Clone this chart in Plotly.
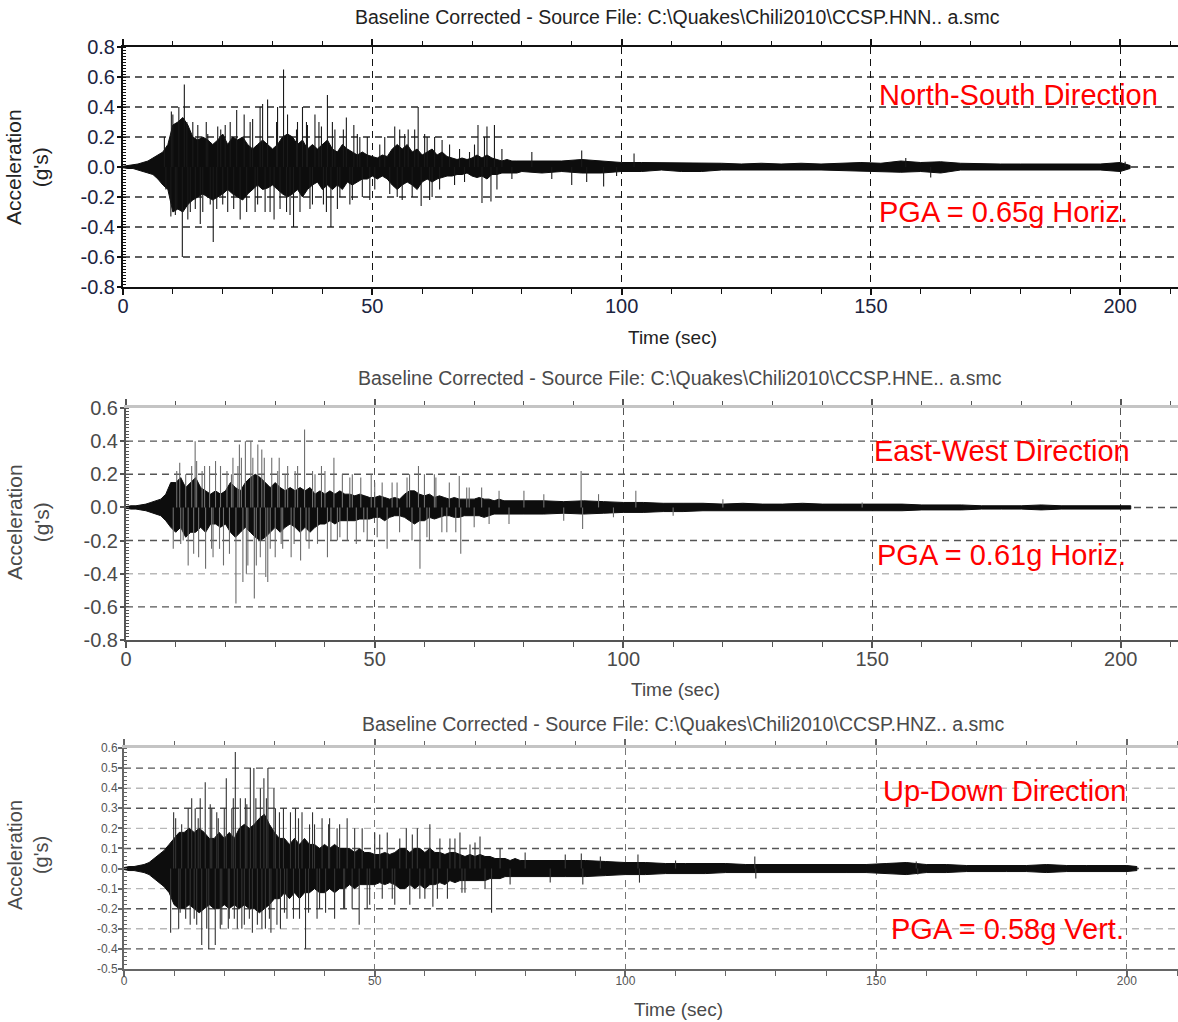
import plotly.graph_objects as go

# ---------------- DATA ----------------
# time knots (s): 1-s spacing during strong motion, 4-s spacing in the coda
T = list(range(0, 81)) + list(range(84, 201, 4)) + [202]

# local peak envelope of each record at the knots (upper / lower, g)
ns_hi = [0.005,0.01,0.01,0.02,0.03,0.04,0.06,0.08,0.10,0.15,
         0.28,0.30,0.33,0.28,0.20,0.18,0.20,0.18,0.15,0.18,
         0.22,0.15,0.20,0.18,0.20,0.15,0.12,0.15,0.18,0.15,
         0.12,0.15,0.20,0.22,0.20,0.15,0.18,0.12,0.15,0.12,
         0.15,0.18,0.12,0.10,0.15,0.12,0.10,0.08,0.10,0.08,
         0.07,0.06,0.08,0.07,0.12,0.15,0.12,0.15,0.10,0.12,
         0.08,0.10,0.12,0.08,0.10,0.07,0.06,0.05,0.06,0.05,
         0.06,0.08,0.06,0.08,0.06,0.05,0.04,0.05,0.04,0.04,
         0.04,
         0.04,0.04,0.05,0.04,0.03,0.03,0.03,0.03,0.025,0.025,
         0.02,0.025,0.02,0.025,0.02,0.025,0.03,0.025,0.04,0.03,
         0.035,0.025,0.02,0.02,0.02,0.02,0.025,0.02,0.02,0.03,
         0.01]
ns_lo = [-0.005,-0.01,-0.01,-0.02,-0.03,-0.04,-0.05,-0.08,-0.12,-0.15,
         -0.30,-0.28,-0.30,-0.25,-0.22,-0.20,-0.18,-0.20,-0.22,-0.20,
         -0.18,-0.15,-0.18,-0.20,-0.22,-0.18,-0.15,-0.12,-0.15,-0.14,
         -0.12,-0.15,-0.18,-0.20,-0.18,-0.15,-0.20,-0.15,-0.12,-0.10,
         -0.15,-0.12,-0.15,-0.12,-0.15,-0.10,-0.12,-0.10,-0.08,-0.08,
         -0.06,-0.08,-0.06,-0.08,-0.12,-0.15,-0.12,-0.10,-0.12,-0.15,
         -0.10,-0.08,-0.10,-0.08,-0.07,-0.06,-0.06,-0.05,-0.05,-0.04,
         -0.06,-0.07,-0.06,-0.08,-0.05,-0.05,-0.04,-0.04,-0.04,-0.04,
         -0.03,
         -0.04,-0.03,-0.04,-0.04,-0.03,-0.03,-0.02,-0.03,-0.03,-0.02,
         -0.025,-0.02,-0.02,-0.02,-0.02,-0.025,-0.03,-0.03,-0.035,-0.03,
         -0.04,-0.02,-0.015,-0.02,-0.02,-0.02,-0.02,-0.02,-0.02,-0.03,
         -0.01]

ew_hi = [0.005,0.01,0.01,0.015,0.02,0.03,0.04,0.05,0.08,0.15,
         0.15,0.18,0.12,0.15,0.18,0.12,0.10,0.08,0.10,0.08,
         0.10,0.15,0.12,0.10,0.15,0.18,0.20,0.18,0.15,0.12,
         0.15,0.12,0.10,0.12,0.10,0.12,0.10,0.12,0.08,0.10,
         0.08,0.10,0.08,0.10,0.08,0.08,0.07,0.08,0.07,0.06,
         0.06,0.07,0.06,0.05,0.06,0.05,0.08,0.10,0.10,0.08,
         0.07,0.08,0.06,0.07,0.06,0.05,0.06,0.05,0.05,0.05,
         0.05,0.06,0.05,0.05,0.04,0.05,0.04,0.04,0.04,0.04,
         0.04,
         0.04,0.035,0.04,0.035,0.03,0.03,0.025,0.025,0.025,0.02,
         0.025,0.02,0.02,0.025,0.02,0.02,0.02,0.02,0.02,0.015,
         0.015,0.015,0.01,0.01,0.01,0.015,0.01,0.01,0.01,0.01,
         0.01]
ew_lo = [-0.005,-0.01,-0.01,-0.015,-0.02,-0.03,-0.04,-0.05,-0.08,-0.12,
         -0.15,-0.12,-0.18,-0.15,-0.15,-0.12,-0.15,-0.10,-0.10,-0.12,
         -0.10,-0.15,-0.18,-0.15,-0.12,-0.15,-0.18,-0.20,-0.18,-0.15,
         -0.12,-0.15,-0.12,-0.10,-0.12,-0.15,-0.12,-0.15,-0.12,-0.10,
         -0.10,-0.08,-0.10,-0.08,-0.08,-0.08,-0.08,-0.07,-0.07,-0.07,
         -0.06,-0.06,-0.08,-0.06,-0.05,-0.05,-0.06,-0.08,-0.10,-0.08,
         -0.08,-0.06,-0.07,-0.06,-0.05,-0.05,-0.06,-0.06,-0.05,-0.05,
         -0.05,-0.05,-0.06,-0.05,-0.04,-0.04,-0.04,-0.04,-0.04,-0.04,
         -0.04,
         -0.04,-0.035,-0.04,-0.035,-0.03,-0.03,-0.025,-0.025,-0.02,-0.02,
         -0.02,-0.02,-0.02,-0.02,-0.02,-0.02,-0.02,-0.02,-0.02,-0.015,
         -0.015,-0.015,-0.01,-0.01,-0.01,-0.015,-0.01,-0.01,-0.01,-0.01,
         -0.01]

ud_hi = [0.005,0.01,0.01,0.015,0.02,0.03,0.05,0.07,0.09,0.12,
         0.15,0.18,0.18,0.20,0.18,0.20,0.18,0.15,0.15,0.18,
         0.15,0.18,0.15,0.20,0.22,0.20,0.22,0.25,0.27,0.22,
         0.18,0.15,0.15,0.12,0.15,0.12,0.15,0.12,0.12,0.10,
         0.12,0.10,0.12,0.10,0.10,0.10,0.08,0.10,0.08,0.08,
         0.07,0.07,0.08,0.07,0.08,0.10,0.10,0.08,0.10,0.10,
         0.08,0.10,0.08,0.08,0.07,0.08,0.08,0.07,0.06,0.07,
         0.06,0.07,0.06,0.06,0.05,0.05,0.05,0.04,0.05,0.04,
         0.04,
         0.04,0.04,0.04,0.035,0.03,0.03,0.025,0.025,0.025,0.025,
         0.02,0.02,0.02,0.02,0.02,0.02,0.02,0.025,0.03,0.02,
         0.02,0.015,0.015,0.015,0.015,0.02,0.015,0.015,0.015,0.015,
         0.01]
ud_lo = [-0.005,-0.01,-0.01,-0.015,-0.02,-0.03,-0.05,-0.07,-0.09,-0.12,
         -0.18,-0.20,-0.20,-0.18,-0.20,-0.22,-0.20,-0.18,-0.20,-0.20,
         -0.18,-0.20,-0.18,-0.20,-0.18,-0.20,-0.20,-0.22,-0.20,-0.18,
         -0.15,-0.15,-0.12,-0.15,-0.12,-0.15,-0.12,-0.12,-0.10,-0.12,
         -0.12,-0.10,-0.12,-0.10,-0.10,-0.08,-0.10,-0.08,-0.08,-0.08,
         -0.08,-0.07,-0.08,-0.07,-0.08,-0.10,-0.10,-0.08,-0.10,-0.08,
         -0.10,-0.08,-0.08,-0.07,-0.08,-0.06,-0.07,-0.06,-0.06,-0.06,
         -0.06,-0.06,-0.06,-0.05,-0.05,-0.05,-0.04,-0.04,-0.04,-0.04,
         -0.04,
         -0.04,-0.04,-0.04,-0.035,-0.03,-0.03,-0.025,-0.025,-0.025,-0.02,
         -0.02,-0.02,-0.02,-0.02,-0.02,-0.02,-0.02,-0.025,-0.03,-0.02,
         -0.02,-0.015,-0.015,-0.015,-0.015,-0.02,-0.015,-0.015,-0.015,-0.015,
         -0.01]

# individual peaks sticking out of the band (time s, acceleration g)
ns_spike_t = [8.3,8.6,9.7,9.6,10.5,11.2,11.9,12.3,13.0,14.0,15.5,16.7,17.5,18.1,19.0,20.5,21.0,
              22.8,23.5,24.3,25.5,26.5,27.5,28.0,29.0,29.5,30.3,31.0,32.2,33.0,33.5,34.2,35.0,
              36.0,36.8,37.5,38.5,39.3,40.2,41.0,41.7,42.5,43.5,44.8,45.5,46.3,47.5,48.0,49.5,
              52.5,54.5,55.5,56.0,57.2,58.0,59.2,59.8,60.5,61.5,62.5,63.5,65.5,67.5,68.5,70.5,
              71.2,72.0,73.0,73.8,74.5,76.0,78.0,82.0,86.0,90.0,92.0,93.0,96.4,99.0,102.5,157.0,162.0,201.0,
              10.0,10.8,12.8,13.5,14.5,15.0,16.0,17.0,18.8,19.6,20.0,21.5,22.2,24.8,26.0,27.0,28.5,
              30.8,31.5,32.8,34.8,35.5,37.0,38.0,39.8,40.8,42.0,43.0,44.2,46.0,47.0,49.0,50.5,51.5,
              53.5,55.0,56.5,58.5,61.0,62.0,64.0,66.5,69.5,72.5,75.0]
ns_spike_a = [0.20,-0.15,0.37,-0.33,-0.32,0.40,-0.60,0.55,-0.35,0.30,-0.38,0.30,-0.25,-0.50,0.27,0.28,-0.30,
              0.38,-0.35,0.35,0.30,-0.30,0.40,0.42,0.45,-0.30,-0.35,0.40,0.65,0.35,-0.32,-0.40,0.30,
              0.40,0.30,-0.28,0.35,0.30,-0.25,0.48,-0.40,0.25,-0.20,0.33,-0.25,0.28,0.20,-0.20,-0.22,
              0.20,0.27,0.25,-0.22,0.25,-0.20,0.40,-0.26,0.22,-0.22,0.20,-0.15,0.15,0.12,-0.10,0.15,
              0.28,-0.24,0.27,-0.23,0.28,0.12,-0.08,0.10,-0.08,-0.12,0.11,-0.10,-0.13,-0.06,0.09,0.06,-0.07,0.035,
              0.35,-0.28,0.30,-0.30,-0.28,0.28,-0.30,0.22,-0.28,0.25,-0.25,0.30,-0.28,-0.30,0.32,-0.25,-0.30,
              0.30,-0.28,-0.30,0.25,-0.30,0.28,-0.25,0.27,-0.30,0.30,-0.28,0.25,-0.22,0.22,0.20,-0.15,0.15,
              -0.18,-0.20,0.22,0.25,0.20,-0.20,0.18,-0.12,0.10,0.20,-0.15]

ew_spike_t = [9.5,10.2,10.8,11.5,12.5,13.2,13.9,14.6,15.3,16.0,16.8,17.5,18.0,18.8,19.6,20.3,21.5,
              22.1,22.8,23.5,24.0,24.5,25.1,25.8,26.5,27.3,28.1,28.5,29.3,30.0,30.8,31.5,32.5,
              33.2,34.0,35.1,35.9,36.8,37.5,38.5,39.3,40.5,41.8,42.5,43.5,44.5,45.5,46.3,47.2,
              48.5,49.3,50.5,51.5,52.5,53.5,55.0,56.5,57.5,58.8,59.1,60.0,61.0,62.3,63.5,65.0,
              66.3,67.0,67.3,68.5,70.0,71.5,73.0,75.0,77.0,80.0,84.0,88.0,91.5,91.8,95.0,98.0,
              102.5,110.0,120.0,148.0,
              11.0,12.0,13.6,14.2,15.8,17.2,19.0,20.8,21.2,22.5,23.2,24.2,25.5,26.2,27.0,27.8,
              29.0,30.5,31.2,32.0,33.8,34.5,36.2,38.0,40.0,41.2,43.0,45.0,47.8,50.0,54.5,57.0,
              60.5,62.0,64.5,69.0]
ew_spike_a = [-0.25,0.22,0.27,-0.20,-0.35,0.25,0.40,-0.30,0.22,-0.37,0.25,-0.30,0.28,-0.25,-0.35,0.22,0.30,
              -0.58,0.38,-0.45,0.40,-0.35,0.40,-0.55,0.38,0.35,-0.42,-0.45,0.30,-0.30,0.30,-0.25,0.25,
              -0.30,0.22,-0.32,0.47,-0.25,0.22,-0.22,0.25,-0.30,0.30,-0.20,0.20,-0.20,0.20,-0.22,0.18,
              -0.20,0.20,-0.18,0.15,-0.25,0.15,-0.15,0.18,-0.20,0.25,-0.37,0.20,-0.20,0.18,-0.15,0.15,
              -0.15,0.19,-0.28,0.12,-0.12,0.12,-0.10,0.10,-0.10,0.10,0.08,-0.08,0.22,-0.13,0.08,-0.06,
              0.10,-0.05,0.05,0.03,
              -0.22,0.20,-0.28,0.28,0.25,-0.25,0.25,-0.28,0.20,0.25,0.30,-0.40,0.30,-0.35,-0.30,0.30,
              -0.25,0.22,-0.22,0.20,-0.22,0.25,-0.20,0.20,0.22,-0.20,-0.18,0.18,-0.15,0.15,0.15,0.20,
              -0.18,0.20,-0.15,0.12]

ud_spike_t = [9.3,9.9,10.9,11.5,12.3,13.5,14.2,14.5,15.2,15.5,16.2,16.9,17.5,18.2,18.8,19.5,20.4,
              21.0,21.5,22.2,22.6,23.2,24.0,24.5,25.2,25.6,25.9,26.6,27.2,27.9,28.2,28.7,29.3,
              29.9,30.5,31.2,31.8,32.5,33.2,34.2,35.0,35.5,36.2,37.0,37.6,38.5,39.5,40.2,41.0,
              42.0,43.0,43.8,44.5,45.5,46.9,47.5,48.5,50.0,51.5,52.5,54.0,55.0,56.3,57.0,58.5,
              60.0,61.0,61.6,63.0,64.5,66.0,67.0,67.4,69.0,71.0,72.0,73.3,75.0,77.0,80.0,85.0,
              88.0,91.2,91.5,95.0,102.5,102.8,110.0,125.8,126.0,158.0,158.3,
              10.3,11.2,12.8,13.2,14.0,14.8,16.5,17.2,18.5,19.2,20.0,20.8,21.8,22.0,23.5,24.2,
              25.0,26.3,27.5,28.4,29.0,30.2,31.0,32.0,33.8,34.8,36.8,38.0,39.0,40.8,42.5,44.0,
              46.0,49.0,51.0,53.5,57.5,59.0,62.5,65.0,68.0,70.0]
ud_spike_a = [-0.32,0.28,-0.30,0.22,-0.25,0.35,0.30,-0.28,0.35,-0.38,0.43,-0.40,0.30,-0.38,0.25,-0.28,0.45,
              -0.25,0.30,0.58,-0.30,0.35,-0.28,0.32,0.50,-0.32,0.50,-0.28,0.40,0.45,-0.30,0.50,-0.32,
              0.40,-0.28,-0.30,0.30,-0.25,0.28,0.30,-0.25,0.28,-0.40,0.22,0.28,-0.25,0.25,-0.22,0.25,
              -0.25,0.22,-0.20,0.25,-0.20,-0.28,0.20,-0.20,0.18,-0.15,0.18,-0.18,0.15,0.20,-0.18,0.20,
              -0.15,0.22,-0.19,0.15,-0.15,0.15,0.18,-0.12,0.12,0.16,-0.10,-0.22,0.10,-0.08,0.08,-0.07,
              0.07,0.075,-0.08,0.06,0.07,-0.07,0.04,0.06,-0.05,0.035,-0.03,
              0.25,-0.22,0.30,-0.28,-0.25,0.25,-0.30,0.32,0.28,-0.30,0.30,-0.30,0.35,-0.25,-0.30,0.35,
              -0.25,0.35,-0.30,0.35,-0.25,0.30,0.28,-0.22,-0.25,0.25,-0.22,0.22,-0.20,0.22,0.20,-0.20,
              0.20,-0.18,0.17,-0.15,0.17,-0.15,-0.15,0.15,-0.12,0.13]

titles = ["Baseline Corrected - Source File: C:\\Quakes\\Chili2010\\CCSP.HNN.. a.smc",
          "Baseline Corrected - Source File: C:\\Quakes\\Chili2010\\CCSP.HNE.. a.smc",
          "Baseline Corrected - Source File: C:\\Quakes\\Chili2010\\CCSP.HNZ.. a.smc"]
directions = ["North-South Direction", "East-West Direction", "Up-Down Direction"]
pga_labels = ["PGA = 0.65g Horiz.", "PGA = 0.61g Horiz.", "PGA = 0.58g Vert."]

x_tickvals = [0, 50, 100, 150, 200]
x_ticktext = ["0", "50", "100", "150", "200"]
y_tickvals_1 = [-0.8, -0.6, -0.4, -0.2, 0.0, 0.2, 0.4, 0.6, 0.8]
y_ticktext_1 = ["-0.8", "-0.6", "-0.4", "-0.2", "0.0", "0.2", "0.4", "0.6", "0.8"]
y_tickvals_2 = [-0.8, -0.6, -0.4, -0.2, 0.0, 0.2, 0.4, 0.6]
y_ticktext_2 = ["-0.8", "-0.6", "-0.4", "-0.2", "0.0", "0.2", "0.4", "0.6"]
y_tickvals_3 = [-0.5, -0.4, -0.3, -0.2, -0.1, 0.0, 0.1, 0.2, 0.3, 0.4, 0.5, 0.6]
y_ticktext_3 = ["-0.5", "-0.4", "-0.3", "-0.2", "-0.1", "0.0", "0.1", "0.2", "0.3", "0.4", "0.5", "0.6"]

# ---------------- FIGURE ----------------
W, H = 1178, 1022
def fx(p): return p / W
def fy(p): return 1 - p / H

FONT = "Liberation Sans, Arial, sans-serif"

panels = [
    dict(hi=ns_hi, lo=ns_lo, st=ns_spike_t, sa=ns_spike_a, spike_color="#1a1a1a",
         xdom=[fx(123), 1.0], ydom=[fy(287), fy(47)], xr=[0, 211.6], yr=[-0.8, 0.8],
         ytv=y_tickvals_1, ytt=y_ticktext_1, tick_font=20, tick_color="#1b2440",
         axis_color="#111111", top_color="#111111", top_width=2, vgrid="#111111",
         title_xy=(677, 17), title_size=19.5, title_color="#222222",
         xlab_xy=(672, 338), xlab_size=19, ylab_xy=(27, 167), ylab_size=21,
         dir_xy=(877, 95), pga_xy=(877, 212), txt_size=29,
         grid_dark=[-0.6, -0.4, -0.2, 0.0, 0.2, 0.4, 0.6], grid_light=[]),
    dict(hi=ew_hi, lo=ew_lo, st=ew_spike_t, sa=ew_spike_a, spike_color="#6e6e6e",
         xdom=[fx(126), 1.0], ydom=[fy(640), fy(408)], xr=[0, 211.5], yr=[-0.8, 0.6],
         ytv=y_tickvals_2, ytt=y_ticktext_2, tick_font=20, tick_color="#4a4a4a",
         axis_color="#555555", top_color="#c4c4c4", top_width=3, vgrid="#555555",
         title_xy=(680, 378), title_size=19.5, title_color="#4a4a4a",
         xlab_xy=(675, 689), xlab_size=19, ylab_xy=(28, 522), ylab_size=21,
         dir_xy=(872, 451), pga_xy=(875, 555), txt_size=29,
         grid_dark=[-0.6, -0.2, 0.0, 0.2, 0.4], grid_light=[-0.4]),
    dict(hi=ud_hi, lo=ud_lo, st=ud_spike_t, sa=ud_spike_a, spike_color="#333333",
         xdom=[fx(124), 1.0], ydom=[fy(969), fy(748)], xr=[0, 210.2], yr=[-0.5, 0.6],
         ytv=y_tickvals_3, ytt=y_ticktext_3, tick_font=12, tick_color="#555555",
         axis_color="#666666", top_color="#c4c4c4", top_width=3, vgrid="#777777",
         title_xy=(683, 724), title_size=19.5, title_color="#4a4a4a",
         xlab_xy=(678, 1009), xlab_size=19, ylab_xy=(28, 855), ylab_size=20,
         dir_xy=(881, 791), pga_xy=(889, 929), txt_size=29,
         grid_dark=[-0.4, -0.2, 0.0, 0.1, 0.3, 0.5], grid_light=[-0.3, -0.1, 0.2, 0.4]),
]

fig = go.Figure()
layout = dict(width=W, height=H, margin=dict(l=0, r=0, t=0, b=0, pad=0, autoexpand=False),
              autosize=False, paper_bgcolor="white", plot_bgcolor="white", showlegend=False,
              font=dict(family=FONT, color="#222222"))
annotations = []
shapes = []

for i, p in enumerate(panels):
    n = i + 1
    xa = "x" if n == 1 else f"x{n}"
    ya = "y" if n == 1 else f"y{n}"
    xkey = "xaxis" if n == 1 else f"xaxis{n}"
    ykey = "yaxis" if n == 1 else f"yaxis{n}"
    topkey = f"xaxis{n + 3}"

    # dense band between the local peak envelopes
    fig.add_trace(go.Scatter(x=T + T[::-1], y=p["hi"] + p["lo"][::-1], mode="lines",
                             fill="toself", fillcolor="#0d0d0d",
                             line=dict(color="#0d0d0d", width=1),
                             xaxis=xa, yaxis=ya, hoverinfo="skip"))
    # spikes
    sx, sy = [], []
    for t, a in zip(p["st"], p["sa"]):
        sx += [t, t, None]
        sy += [0, a, None]
    fig.add_trace(go.Scatter(x=sx, y=sy, mode="lines",
                             line=dict(color=p["spike_color"], width=1.1),
                             xaxis=xa, yaxis=ya, hoverinfo="skip"))
    # empty trace to register the top axis
    fig.add_trace(go.Scatter(x=[], y=[], xaxis=f"x{n + 3}", yaxis=ya))

    layout[xkey] = dict(domain=p["xdom"], range=p["xr"], anchor=ya, automargin=False,
                        tickmode="array", tickvals=x_tickvals, ticktext=x_ticktext,
                        ticks="outside", ticklen=6, tickwidth=1.5, tickcolor=p["axis_color"],
                        ticklabelstandoff=-6,
                        showline=True, linecolor=p["axis_color"], linewidth=2,
                        showgrid=True, gridcolor=p["vgrid"], griddash="7px,5px", gridwidth=1.3,
                        zeroline=False, fixedrange=True,
                        tickfont=dict(size=p["tick_font"], color=p["tick_color"], family=FONT),
                        minor=dict(dtick=10, tick0=0, ticks="outside", ticklen=5,
                                   tickwidth=1, tickcolor=p["axis_color"], showgrid=False))
    layout[topkey] = dict(overlaying=xa, anchor=ya, side="top", range=p["xr"], automargin=False,
                          tickmode="array", tickvals=x_tickvals, ticktext=["", "", "", "", ""],
                          ticks="outside", ticklen=6, tickwidth=1.5, tickcolor=p["axis_color"],
                          showline=True, linecolor=p["top_color"], linewidth=p["top_width"],
                          showgrid=False, zeroline=False, fixedrange=True,
                          minor=dict(dtick=10, tick0=0, ticks="outside", ticklen=4,
                                     tickwidth=1, tickcolor=p["axis_color"], showgrid=False))
    layout[ykey] = dict(domain=p["ydom"], range=p["yr"], anchor=xa, automargin=False,
                        tickmode="array", tickvals=p["ytv"], ticktext=p["ytt"],
                        ticks="outside", ticklen=4, tickwidth=1.5, tickcolor=p["axis_color"],
                        ticklabelstandoff=-2,
                        showline=True, linecolor=p["axis_color"], linewidth=2,
                        showgrid=False, zeroline=False, fixedrange=True,
                        tickfont=dict(size=p["tick_font"], color=p["tick_color"], family=FONT),
                        minor=dict(dtick=0.02, tick0=0, ticks="inside", ticklen=3,
                                   tickwidth=1, tickcolor=p["axis_color"], showgrid=False))

    # horizontal dashed grid lines
    for v in p["grid_dark"]:
        shapes.append(dict(type="line", xref=f"{xa} domain", x0=0, x1=1, yref=ya, y0=v, y1=v,
                           line=dict(color="#2a2a2a" if n == 1 else "#555555", width=1.4,
                                     dash="7px,5px"), layer="below"))
    for v in p["grid_light"]:
        shapes.append(dict(type="line", xref=f"{xa} domain", x0=0, x1=1, yref=ya, y0=v, y1=v,
                           line=dict(color="#b8b8b8", width=1.4, dash="7px,5px"), layer="below"))

    # texts
    annotations.append(dict(text=titles[i], x=fx(p["title_xy"][0]), y=fy(p["title_xy"][1]),
                            xref="paper", yref="paper", xanchor="center", yanchor="middle",
                            showarrow=False, font=dict(size=p["title_size"], color=p["title_color"])))
    annotations.append(dict(text="Time (sec)", x=fx(p["xlab_xy"][0]), y=fy(p["xlab_xy"][1]),
                            xref="paper", yref="paper", xanchor="center", yanchor="middle",
                            showarrow=False, font=dict(size=p["xlab_size"], color=p["title_color"])))
    annotations.append(dict(text="Acceleration<br>(g's)", x=fx(p["ylab_xy"][0]), y=fy(p["ylab_xy"][1]),
                            xref="paper", yref="paper", xanchor="center", yanchor="middle",
                            textangle=-90, showarrow=False,
                            font=dict(size=p["ylab_size"], color=p["title_color"])))
    annotations.append(dict(text=directions[i], x=fx(p["dir_xy"][0]), y=fy(p["dir_xy"][1]),
                            xref="paper", yref="paper", xanchor="left", yanchor="middle",
                            showarrow=False, font=dict(size=p["txt_size"], color="#ff0000")))
    annotations.append(dict(text=pga_labels[i], x=fx(p["pga_xy"][0]), y=fy(p["pga_xy"][1]),
                            xref="paper", yref="paper", xanchor="left", yanchor="middle",
                            showarrow=False, font=dict(size=p["txt_size"], color="#ff0000")))

layout["annotations"] = annotations
layout["shapes"] = shapes
fig.update_layout(**layout)
fig.write_html("out.html", config={"displayModeBar": False},
               post_script="document.body.style.margin='0';document.body.style.padding='0';"
                           "document.documentElement.style.overflow='hidden';")
